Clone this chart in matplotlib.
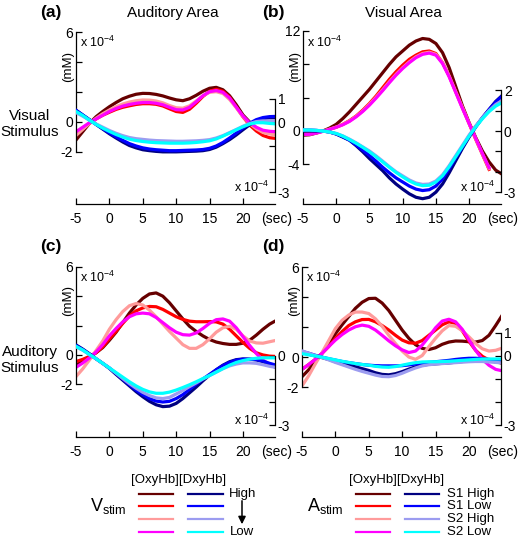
import matplotlib
matplotlib.use("Agg")
import matplotlib.pyplot as plt
import numpy as np

plt.rcParams['font.family'] = ['Liberation Sans', 'DejaVu Sans']
plt.rcParams['mathtext.fontset'] = 'custom'
plt.rcParams['mathtext.rm'] = 'Liberation Sans'
plt.rcParams['mathtext.it'] = 'Liberation Sans:italic'
plt.rcParams['mathtext.bf'] = 'Liberation Sans:bold'

# time in seconds, -5 .. 25
time = np.arange(-5, 26)

# ---- (a) auditory area, visual stimulus ----
# OxyHb (left axis, x1e-4 mM)
oxy_a_high = [-1.2, -0.65, -0.1, 0.35, 0.7, 1.02, 1.3, 1.55, 1.72, 1.85, 1.91, 1.9, 1.84, 1.74, 1.6, 1.48,
              1.42, 1.55, 1.78, 2.05, 2.25, 2.31, 2.15, 1.75, 1.15, 0.47, 0.0, -0.4, -0.62, -0.75, -0.82]
oxy_a_2 = [-0.7, -0.45, -0.1, 0.2, 0.45, 0.65, 0.84, 0.98, 1.08, 1.17, 1.22, 1.22, 1.18, 1.07, 0.88, 0.7,
           0.64, 0.85, 1.25, 1.7, 2.05, 2.18, 2.05, 1.65, 1.0, 0.35, -0.2, -0.6, -0.9, -1.05, -1.1]
oxy_a_3 = [-0.9, -0.5, -0.1, 0.25, 0.55, 0.8, 1.02, 1.2, 1.33, 1.42, 1.47, 1.46, 1.4, 1.28, 1.1, 0.95,
           0.92, 1.08, 1.4, 1.75, 1.98, 2.02, 1.9, 1.5, 0.95, 0.35, -0.1, -0.45, -0.7, -0.8, -0.85]
oxy_a_low = [-0.65, -0.35, -0.05, 0.2, 0.45, 0.7, 0.9, 1.06, 1.17, 1.25, 1.3, 1.3, 1.25, 1.15, 0.98, 0.82,
             0.8, 0.98, 1.35, 1.75, 2.02, 2.1, 1.98, 1.6, 1.0, 0.4, -0.05, -0.35, -0.55, -0.62, -0.65]
# DxyHb (right axis, x1e-4 mM)
dxy_a_high = [0.5, 0.3, 0.1, -0.1, -0.3, -0.5, -0.68, -0.85, -1.0, -1.1, -1.18, -1.22, -1.25, -1.27, -1.27, -1.27,
              -1.26, -1.25, -1.24, -1.22, -1.17, -1.07, -0.92, -0.75, -0.55, -0.33, -0.12, 0.05, 0.14, 0.18, 0.18]
dxy_a_2 = [0.5, 0.3, 0.1, -0.1, -0.28, -0.46, -0.63, -0.78, -0.92, -1.02, -1.1, -1.15, -1.18, -1.2, -1.22, -1.22,
           -1.21, -1.2, -1.19, -1.17, -1.12, -1.02, -0.87, -0.68, -0.47, -0.25, -0.05, 0.1, 0.19, 0.23, 0.24]
dxy_a_3 = [0.4, 0.25, 0.08, -0.08, -0.22, -0.36, -0.48, -0.58, -0.66, -0.71, -0.74, -0.77, -0.79, -0.8, -0.81, -0.82,
           -0.82, -0.81, -0.8, -0.78, -0.75, -0.68, -0.58, -0.45, -0.32, -0.18, -0.06, 0.02, 0.05, 0.05, 0.04]
dxy_a_low = [0.45, 0.28, 0.08, -0.1, -0.26, -0.4, -0.53, -0.64, -0.73, -0.79, -0.83, -0.86, -0.88, -0.89, -0.9, -0.9,
             -0.9, -0.89, -0.87, -0.84, -0.8, -0.72, -0.6, -0.47, -0.33, -0.2, -0.09, -0.03, -0.03, -0.06, -0.08]

# ---- (b) visual area, visual stimulus ----
oxy_b_high = [-0.5, -0.45, -0.25, 0.0, 0.35, 0.8, 1.5, 2.3, 3.2, 4.1, 5.0, 6.0, 7.0, 8.0, 8.9, 9.6,
              10.3, 10.8, 11.1, 11.0, 10.5, 9.4, 7.6, 5.3, 3.0, 1.0, -0.8, -2.4, -3.7, -4.7, -5.2]
oxy_b_2 = [-0.3, -0.35, -0.2, 0.0, 0.2, 0.45, 0.8, 1.25, 1.8, 2.5, 3.3, 4.2, 5.2, 6.2, 7.1, 7.9,
           8.6, 9.1, 9.5, 9.6, 9.3, 8.2, 6.6, 4.7, 2.8, 0.9, -1.0, -2.8, -4.6, np.nan, np.nan]
oxy_b_3 = [-0.35, -0.38, -0.22, -0.02, 0.22, 0.48, 0.78, 1.2, 1.75, 2.4, 3.2, 4.05, 4.95, 5.9, 6.8, 7.6,
           8.3, 8.9, 9.3, 9.45, 9.2, 8.2, 6.6, 4.7, 2.8, 0.9, -0.95, -2.75, -4.5, np.nan, np.nan]
oxy_b_low = [-0.4, -0.4, -0.25, -0.05, 0.2, 0.45, 0.75, 1.15, 1.7, 2.35, 3.1, 3.95, 4.85, 5.8, 6.7, 7.5,
             8.2, 8.8, 9.2, 9.35, 9.1, 8.1, 6.5, 4.6, 2.7, 0.9, -0.9, -2.7, -4.4, np.nan, np.nan]
dxy_b_high = [0.0, 0.0, 0.0, 0.0, -0.05, -0.15, -0.3, -0.45, -0.72, -1.02, -1.35, -1.65, -1.95, -2.3, -2.6, -2.85,
              -3.08, -3.25, -3.32, -3.25, -3.0, -2.6, -2.05, -1.45, -0.85, -0.3, 0.2, 0.65, 1.05, 1.45, 1.75]
dxy_b_2 = [0.05, 0.05, 0.03, 0.0, -0.05, -0.14, -0.28, -0.45, -0.68, -0.94, -1.2, -1.48, -1.78, -2.05, -2.3, -2.5,
           -2.7, -2.85, -2.92, -2.88, -2.7, -2.35, -1.85, -1.3, -0.78, -0.25, 0.22, 0.65, 1.05, 1.42, 1.72]
dxy_b_3 = [0.05, 0.05, 0.03, 0.0, -0.05, -0.12, -0.24, -0.4, -0.58, -0.78, -0.98, -1.22, -1.48, -1.75, -2.0, -2.2,
           -2.4, -2.55, -2.62, -2.6, -2.45, -2.15, -1.7, -1.2, -0.7, -0.2, 0.25, 0.65, 1.0, 1.3, 1.5]
dxy_b_low = [0.05, 0.05, 0.03, 0.0, -0.05, -0.12, -0.25, -0.42, -0.6, -0.8, -1.02, -1.26, -1.52, -1.78, -2.03, -2.25,
             -2.45, -2.6, -2.68, -2.66, -2.5, -2.2, -1.75, -1.25, -0.75, -0.25, 0.2, 0.6, 0.95, 1.22, 1.4]

# ---- (c) auditory area, auditory stimulus ----
oxy_c_1 = [-0.68, -0.45, -0.15, 0.15, 0.5, 1.0, 1.55, 2.2, 2.85, 3.4, 3.85, 4.15, 4.22, 4.0, 3.55, 3.0,
           2.45, 1.95, 1.6, 1.3, 1.05, 0.88, 0.78, 0.72, 0.72, 0.8, 1.0, 1.35, 1.75, 2.1, 2.35]
oxy_c_2 = [-0.45, -0.3, -0.1, 0.15, 0.55, 1.1, 1.6, 2.15, 2.65, 3.0, 3.2, 3.3, 3.28, 3.1, 2.85, 2.6,
           2.42, 2.3, 2.26, 2.26, 2.27, 2.25, 2.1, 1.75, 1.3, 0.85, 0.45, 0.15, 0.0, -0.08, -0.1]
oxy_c_3 = [-1.47, -0.95, -0.35, 0.3, 0.95, 1.75, 2.4, 2.95, 3.35, 3.5, 3.4, 3.05, 2.6, 2.1, 1.6, 1.15,
           0.7, 0.45, 0.45, 0.7, 1.1, 1.55, 1.85, 1.95, 1.75, 1.3, 0.95, 0.82, 0.8, 0.9, 1.0]
oxy_c_4 = [-0.84, -0.55, -0.2, 0.2, 0.7, 1.3, 1.8, 2.25, 2.6, 2.8, 2.85, 2.8, 2.55, 2.2, 1.85, 1.55,
           1.38, 1.35, 1.5, 1.8, 2.15, 2.4, 2.45, 2.3, 1.85, 1.25, 0.65, 0.1, -0.35, -0.65, -0.85]
dxy_c_1 = [0.48, 0.3, 0.1, -0.12, -0.32, -0.54, -0.8, -1.05, -1.3, -1.55, -1.77, -1.97, -2.12, -2.2, -2.18, -2.06,
           -1.85, -1.6, -1.35, -1.08, -0.83, -0.6, -0.4, -0.25, -0.16, -0.13, -0.14, -0.17, -0.25, -0.38, -0.5]
dxy_c_2 = [0.45, 0.28, 0.08, -0.12, -0.32, -0.52, -0.76, -1.0, -1.25, -1.48, -1.68, -1.85, -1.96, -2.0, -1.97, -1.85,
           -1.68, -1.45, -1.22, -1.0, -0.8, -0.6, -0.42, -0.28, -0.18, -0.14, -0.14, -0.16, -0.22, -0.32, -0.4]
dxy_c_3 = [0.4, 0.25, 0.06, -0.12, -0.32, -0.52, -0.75, -0.98, -1.2, -1.4, -1.58, -1.72, -1.82, -1.85, -1.8, -1.65,
           -1.5, -1.33, -1.17, -1.0, -0.85, -0.7, -0.55, -0.43, -0.35, -0.3, -0.3, -0.32, -0.38, -0.45, -0.5]
dxy_c_4 = [0.42, 0.26, 0.07, -0.12, -0.32, -0.52, -0.72, -0.92, -1.12, -1.3, -1.45, -1.56, -1.62, -1.62, -1.57, -1.48,
           -1.37, -1.25, -1.12, -0.98, -0.85, -0.7, -0.55, -0.4, -0.28, -0.2, -0.14, -0.1, -0.08, -0.08, -0.08]

# ---- (d) visual area, auditory stimulus ----
oxy_d_1 = [-1.31, -0.85, -0.3, 0.25, 0.85, 1.55, 2.15, 2.7, 3.25, 3.65, 3.9, 3.92, 3.6, 3.1, 2.45, 1.8,
           1.25, 0.82, 0.58, 0.5, 0.62, 0.85, 1.0, 1.07, 1.06, 1.02, 1.0, 1.1, 1.45, 2.1, 2.8]
oxy_d_2 = [-0.82, -0.5, -0.15, 0.25, 0.7, 1.24, 1.7, 2.1, 2.35, 2.5, 2.51, 2.35, 2.1, 1.8, 1.45, 1.13,
           0.95, 0.92, 1.1, 1.45, 1.8, 2.15, 2.35, 2.25, 1.75, 1.05, 0.45, 0.05, -0.2, -0.33, -0.4]
oxy_d_3 = [-1.93, -1.25, -0.45, 0.3, 1.1, 1.9, 2.45, 2.8, 3.0, 3.0, 2.9, 2.55, 2.05, 1.45, 0.9, 0.4,
           0.0, -0.15, 0.1, 0.7, 1.25, 1.75, 2.1, 2.05, 1.75, 1.35, 0.9, 0.55, 0.4, 0.45, 0.6]
oxy_d_4 = [-0.82, -0.5, -0.15, 0.25, 0.7, 1.13, 1.5, 1.8, 2.02, 2.13, 2.05, 1.8, 1.45, 1.08, 0.75, 0.48,
           0.3, 0.4, 0.8, 1.35, 1.95, 2.4, 2.52, 2.35, 1.85, 1.15, 0.45, -0.15, -0.55, -0.82, -0.92]
dxy_d_1 = [0.15, 0.07, 0.0, -0.07, -0.15, -0.25, -0.33, -0.4, -0.47, -0.55, -0.63, -0.73, -0.8, -0.82, -0.77, -0.68,
           -0.57, -0.47, -0.4, -0.36, -0.34, -0.32, -0.3, -0.27, -0.24, -0.21, -0.18, -0.17, -0.2, -0.25, -0.3]
dxy_d_2 = [0.2, 0.12, 0.03, -0.05, -0.12, -0.18, -0.24, -0.29, -0.33, -0.37, -0.4, -0.42, -0.43, -0.43, -0.43, -0.42,
           -0.39, -0.35, -0.31, -0.28, -0.25, -0.22, -0.19, -0.15, -0.12, -0.1, -0.1, -0.12, -0.15, -0.18, -0.2]
dxy_d_3 = [0.22, 0.12, 0.02, -0.07, -0.17, -0.28, -0.38, -0.48, -0.58, -0.67, -0.75, -0.83, -0.89, -0.9, -0.85, -0.75,
           -0.63, -0.52, -0.43, -0.38, -0.35, -0.33, -0.31, -0.29, -0.27, -0.25, -0.24, -0.24, -0.26, -0.28, -0.3]
dxy_d_4 = [0.1, 0.05, 0.0, -0.05, -0.11, -0.17, -0.23, -0.28, -0.33, -0.37, -0.4, -0.45, -0.48, -0.49, -0.46, -0.4,
           -0.34, -0.29, -0.26, -0.25, -0.25, -0.24, -0.23, -0.21, -0.19, -0.17, -0.15, -0.13, -0.13, -0.13, -0.13]

oxy_colors = ['#660000', '#ff0000', '#ff9b9b', '#ff00ff']
dxy_colors = ['#000080', '#0000ff', '#9c9cf0', '#00ffff']
x_ticks = [-5, 0, 5, 10, 15, 20]

W, H = 520, 538
fig = plt.figure(figsize=(W / 100, H / 100), dpi=100)

# overlay in pixel coordinates for texts and legends (drawn on top)
lay = fig.add_axes([0, 0, 1, 1])
lay.set_xlim(0, W)
lay.set_ylim(H, 0)
lay.axis('off')
lay.set_zorder(10)


def panel(L, R, T, B, oxy, dxy, ylim_l, yt_l, yl_l, ylim_r, yt_r, yl_r, r_top):
    ax = fig.add_axes([L / W, 1 - B / H, (R - L) / W, (B - T) / H])
    ax.patch.set_visible(False)
    ax.set_xlim(-5, 24.8)
    ax.set_ylim(ylim_l)
    for s, c in zip(oxy, oxy_colors):
        ax.plot(time, s, color=c, lw=2.3)
    ax2 = ax.twinx()
    ax2.set_ylim(ylim_r)
    for s, c in zip(dxy, dxy_colors):
        ax2.plot(time, s, color=c, lw=2.3)

    for a in (ax, ax2):
        for sp in a.spines.values():
            sp.set_linewidth(0.9)
    ax.spines['top'].set_visible(False)
    ax.spines['right'].set_visible(False)
    ax.spines['left'].set_bounds(yt_l[0], yt_l[-1])
    ax.spines['bottom'].set_bounds(-5, 24.8)
    for k in ('top', 'left', 'bottom'):
        ax2.spines[k].set_visible(False)
    ax2.spines['right'].set_bounds(yt_r[0], r_top)

    ax.set_xticks(x_ticks)
    ax.set_xticklabels([str(v) for v in x_ticks])
    ax.set_yticks(yt_l)
    ax.set_yticklabels(yl_l)
    ax2.set_yticks(yt_r)
    ax2.set_yticklabels(yl_r)
    ax.tick_params(axis='x', direction='in', length=4, width=0.9, pad=6, labelsize=10)
    ax.tick_params(axis='y', direction='in', length=4, width=0.9, pad=2, labelsize=10)
    ax2.tick_params(axis='y', direction='in', length=4, width=0.9, pad=2, labelsize=10)

    lay.text(L + 4, T + 17, r'x 10$^{\mathrm{-4}}$', fontsize=9, ha='left', va='center')
    lay.text(R - 41, B - 17, r'x 10$^{\mathrm{-4}}$', fontsize=9, ha='left', va='center')
    lay.text(L - 8, T + 41, '(mM)', fontsize=9.5, rotation=90, ha='center', va='center')
    lay.text(R + 2, B + 15, '(sec)', fontsize=10, ha='center', va='center')


panel(76, 275, 25, 204,
      [oxy_a_high, oxy_a_2, oxy_a_3, oxy_a_low], [dxy_a_high, dxy_a_2, dxy_a_3, dxy_a_low],
      (-5.47, 6.47), [-2, 0, 2, 4, 6], ['-2', '0', '', '', '6'],
      (-3.49, 4.13), [-3, -2, -1, 0, 1], ['-3', '', '', '0', '1'], 1)
panel(303, 501, 25, 204,
      [oxy_b_high, oxy_b_2, oxy_b_3, oxy_b_low], [dxy_b_high, dxy_b_2, dxy_b_3, dxy_b_low],
      (-8.76, 12.72), [-4, 0, 4, 8, 12], ['-4', '0', '', '', '12'],
      (-3.58, 5.2), [-3, -2, -1, 0, 1, 2], ['-3', '', '', '0', '', '2'], 2)
panel(76, 275, 260, 437,
      [oxy_c_1, oxy_c_2, oxy_c_3, oxy_c_4], [dxy_c_1, dxy_c_2, dxy_c_3, dxy_c_4],
      (-5.58, 6.46), [-2, 0, 2, 4, 6], ['-2', '0', '', '', '6'],
      (-3.52, 4.17), [-3, -2, -1, 0], ['-3', '', '', '0'], 0)
panel(302, 501, 260, 437,
      [oxy_d_1, oxy_d_2, oxy_d_3, oxy_d_4], [dxy_d_1, dxy_d_2, dxy_d_3, dxy_d_4],
      (-5.33, 6.47), [-2, 0, 2, 4, 6], ['-2', '0', '', '', '6'],
      (-3.52, 4.17), [-3, -2, -1, 0, 1], ['-3', '', '', '0', '1'], 1)

# panel letters and titles
lay.text(51, 13, '(a)', fontsize=12.5, fontweight='bold', ha='center', va='center')
lay.text(273, 13, '(b)', fontsize=12.5, fontweight='bold', ha='center', va='center')
lay.text(51, 247, '(c)', fontsize=12.5, fontweight='bold', ha='center', va='center')
lay.text(273, 247, '(d)', fontsize=12.5, fontweight='bold', ha='center', va='center')
lay.text(173, 13, 'Auditory Area', fontsize=11, ha='center', va='center')
lay.text(403, 13, 'Visual Area', fontsize=11, ha='center', va='center')
lay.text(30, 124, 'Visual\nStimulus', fontsize=11, ha='center', va='center', linespacing=1.15)
lay.text(30, 360, 'Auditory\nStimulus', fontsize=11, ha='center', va='center', linespacing=1.15)

# legends
rows_y = [494, 506, 519, 532]
lay.text(179, 480, '[OxyHb][DxyHb]', fontsize=9.5, ha='center', va='center')
lay.text(397, 480, '[OxyHb][DxyHb]', fontsize=9.5, ha='center', va='center')
for y, co, cd in zip(rows_y, oxy_colors, dxy_colors):
    lay.plot([139, 173], [y, y], color=co, lw=1.6)
    lay.plot([188, 223], [y, y], color=cd, lw=1.6)
    lay.plot([356, 390], [y, y], color=co, lw=1.6)
    lay.plot([405, 439], [y, y], color=cd, lw=1.6)
lay.text(229, rows_y[0], 'High', fontsize=9.5, ha='left', va='center')
lay.text(230, rows_y[3], 'Low', fontsize=9.5, ha='left', va='center')
lay.annotate('', xy=(242, 527), xytext=(242, 498),
             arrowprops=dict(arrowstyle='-|>', color='k', lw=1.1, mutation_scale=11))
for y, lab in zip(rows_y, ['S1 High', 'S1 Low', 'S2 High', 'S2 Low']):
    lay.text(447, y, lab, fontsize=9.5, ha='left', va='center')
lay.text(90, 506, r'V$_{\mathrm{stim}}$', fontsize=13, ha='left', va='center')
lay.text(307, 506, r'A$_{\mathrm{stim}}$', fontsize=13, ha='left', va='center')

fig.savefig('out.png', dpi=100)
